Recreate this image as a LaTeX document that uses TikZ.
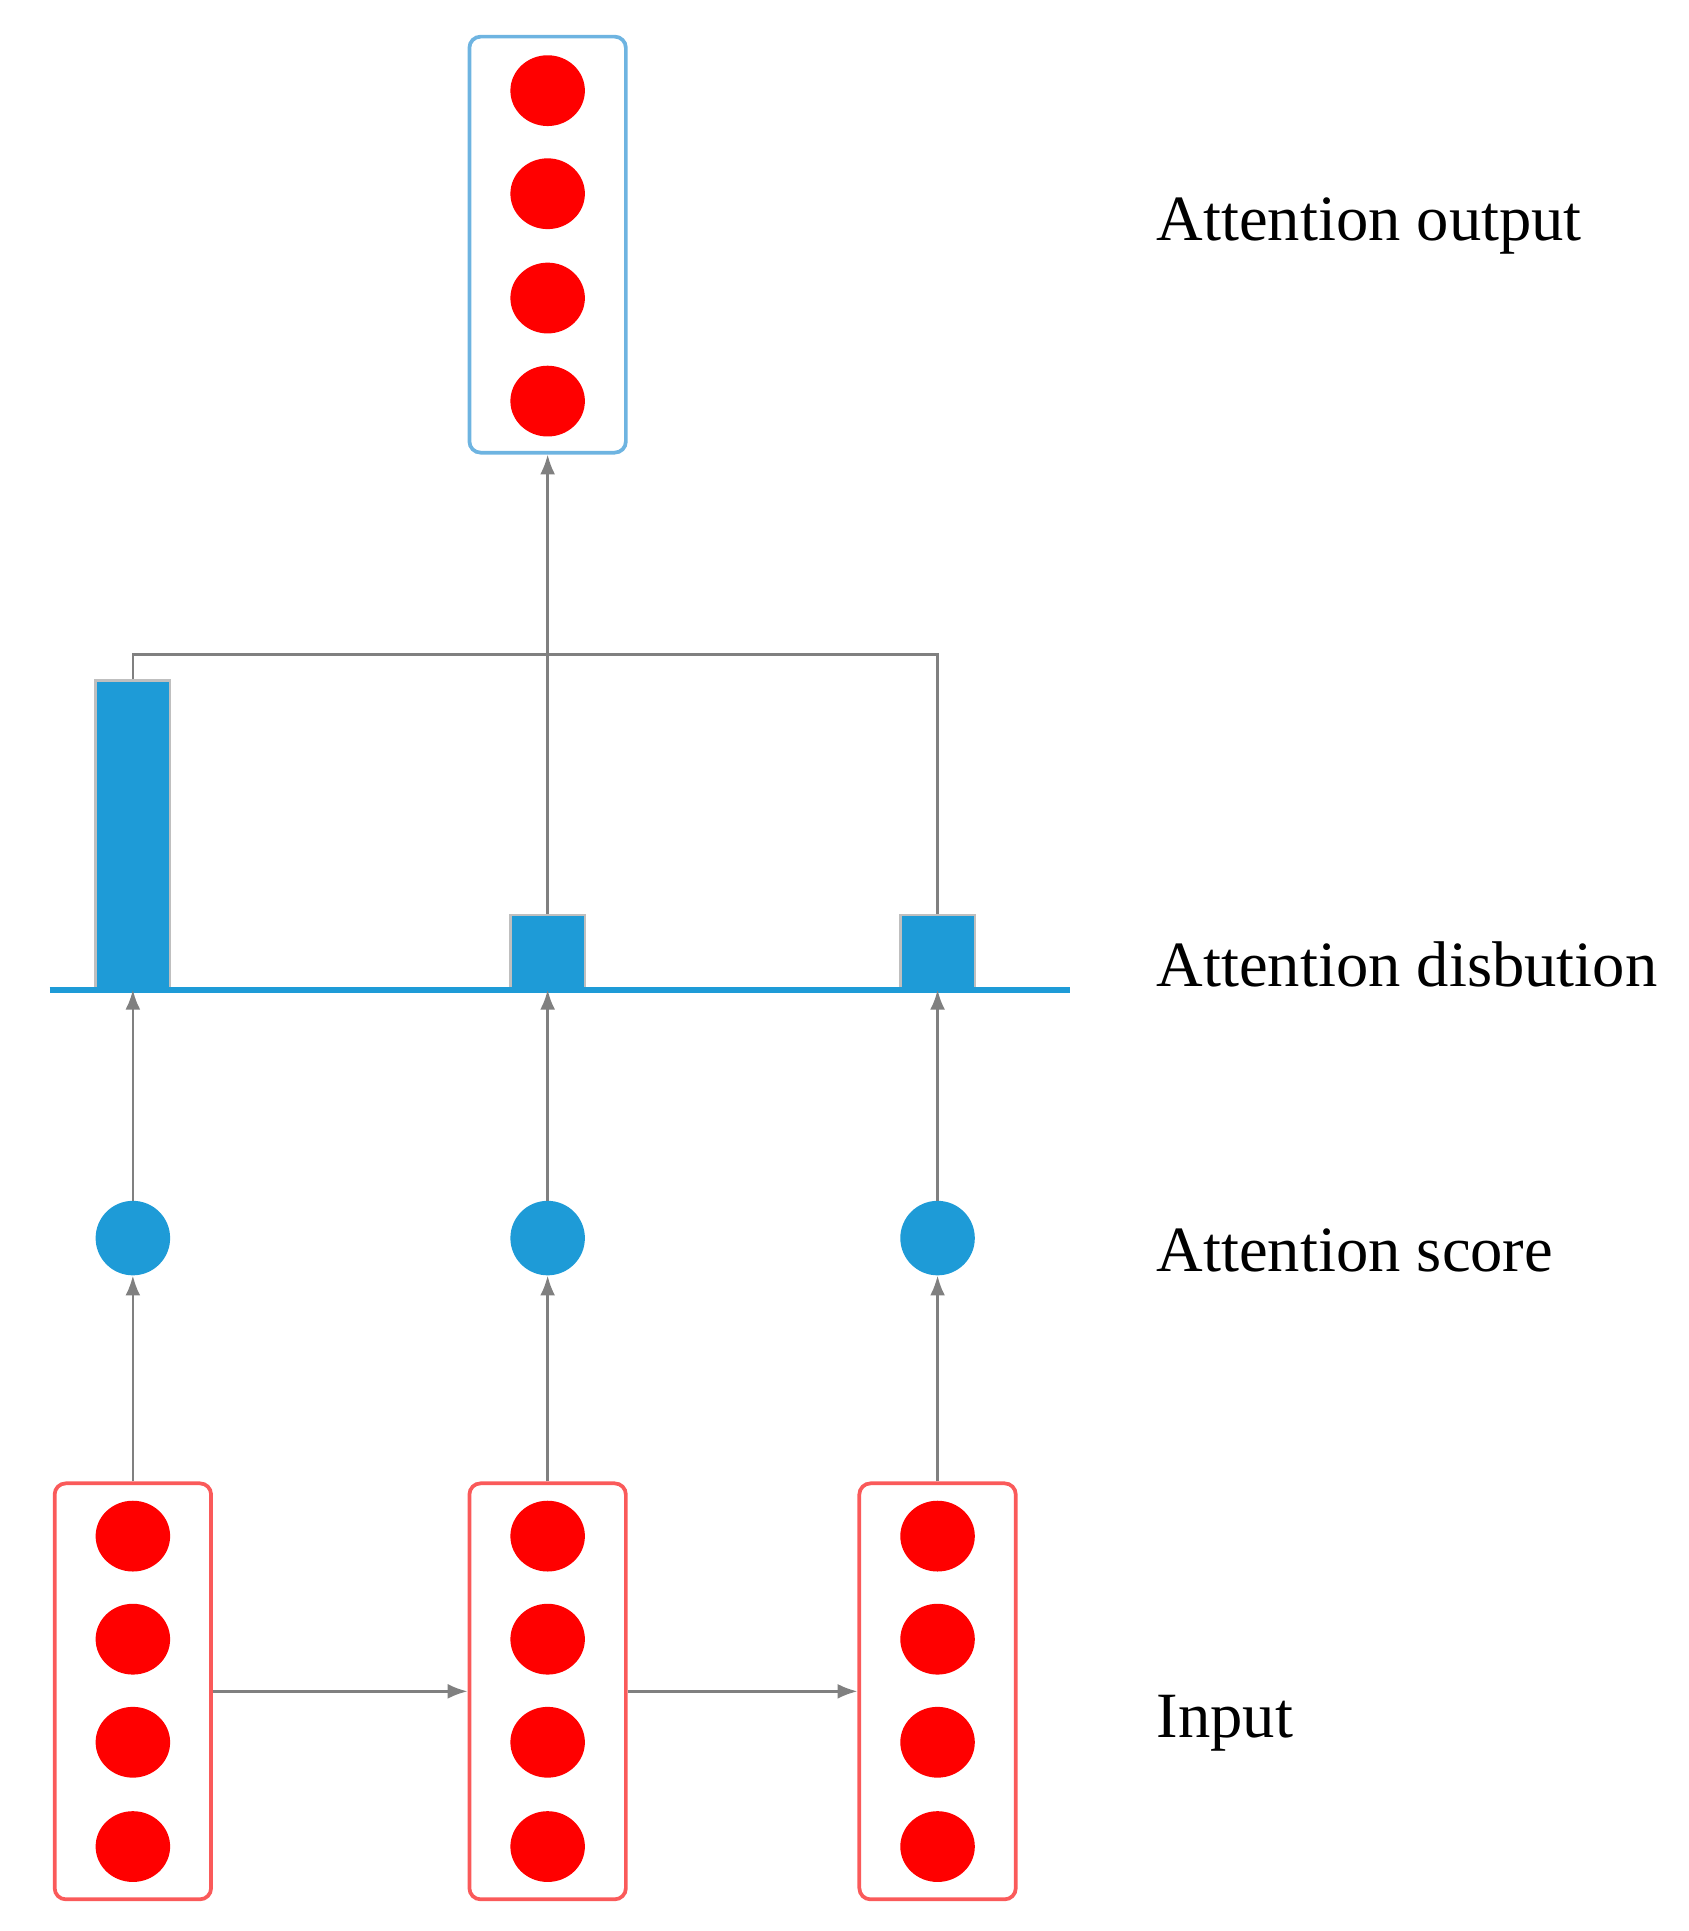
\documentclass[tikz,border=0pt]{standalone}
\usepackage{fontspec}
\setmainfont{Liberation Serif}
\usetikzlibrary{arrows.meta,shapes.geometric}
\definecolor{dotred}{RGB}{255,0,0}
\definecolor{boxred}{RGB}{250,90,90}
\definecolor{boxblue}{RGB}{110,180,225}
\definecolor{bblue}{RGB}{30,155,215}
\begin{document}
\begin{tikzpicture}[x=1pt,y=-1pt,
  dot/.style={ellipse,fill=dotred,minimum width=60pt,minimum height=57pt,inner sep=0},
  vec/.style={draw=#1,line width=3pt,rounded corners=9pt,minimum width=126pt,minimum height=335pt},
  score/.style={circle,fill=bblue,minimum size=60pt,inner sep=0},
  bar/.style={fill=bblue,draw=black!25,line width=2pt},
  conn/.style={draw=gray,line width=2pt},
  arr/.style={conn,-{Latex[length=16pt,width=12pt]}},
  lab/.style={anchor=west,font=\fontsize{52}{58}\selectfont}]
\useasboundingbox (0,0) rectangle (1360,1555);
% input vectors
\foreach \n/\x in {a/107,b/441,c/755}{
  \node[vec=boxred] (\n) at (\x,1362) {};
  \foreach \i/\y in {1/1237,2/1320,3/1403,4/1487}
    \node[dot] (\n\i) at (\x,\y) {};
  \node[score] (s\n) at (\x,997) {};
}
% output
\node[vec=boxblue] (o) at (441,197) {};
\foreach \i/\y in {1/73,2/156,3/240,4/323}
  \node[dot] (o\i) at (441,\y) {};
% bars
\node[bar,minimum width=60pt,minimum height=248pt,inner sep=0,anchor=south] (ba) at (107,797) {};
\node[bar,minimum width=60pt,minimum height=59pt,inner sep=0,anchor=south] (bb) at (441,797) {};
\node[bar,minimum width=60pt,minimum height=59pt,inner sep=0,anchor=south] (bc) at (755,797) {};
\coordinate (L) at (40,797); \coordinate (R) at (862,797);
\draw[bblue,line width=5pt] (L) -- (R);
% connectors
\foreach \n in {a,b,c}{
  \draw[arr] (\n.north) -- (s\n.south);
  \coordinate (t\n) at (\n.north |- L);
  \draw[arr] (s\n.north) -- (t\n);
}
\draw[arr] (a.east) -- (b.west);
\draw[arr] (b.east) -- (c.west);
\coordinate (ja) at (107,527); \coordinate (jc) at (755,527);
\draw[conn] (ba.north) -- (ja) -- (jc) -- (bc.north);
\draw[arr] (bb.north) -- (o.south);
% labels
\node[lab] (l1) at (928,182) {Attention output};
\node[lab] (l2) at (928,777) {Attention disbution};
\node[lab] (l3) at (928,1007) {Attention score};
\node[lab] (l4) at (928,1388) {Input};
\end{tikzpicture}
\end{document}
